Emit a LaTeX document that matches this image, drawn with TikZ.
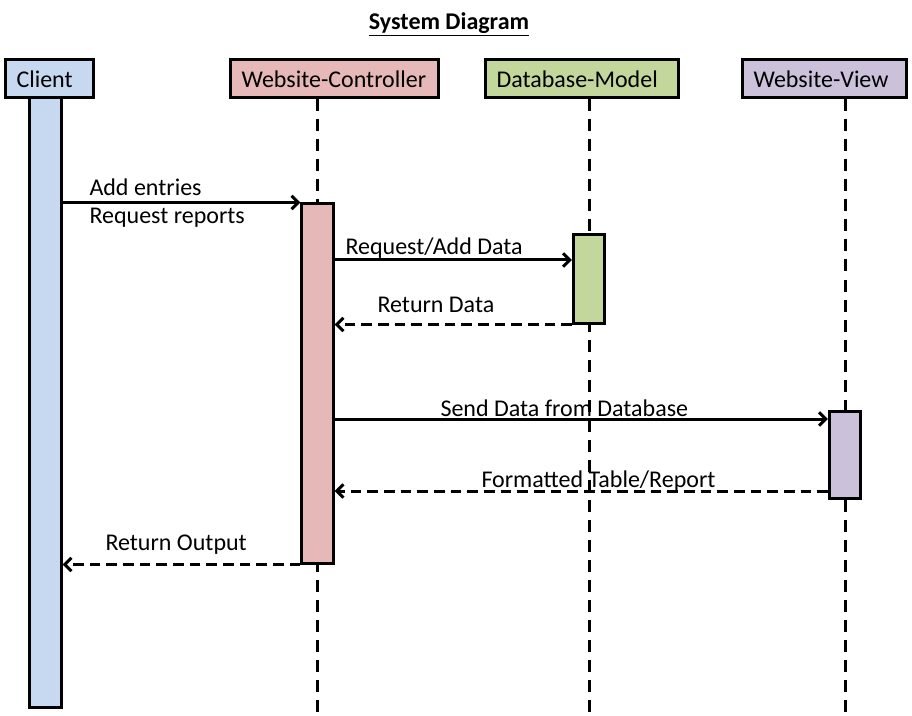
\documentclass[tikz,border=0pt]{standalone}
\usepackage{fontspec}
\setmainfont{Carlito}
\usetikzlibrary{arrows.meta,positioning}

\definecolor{clientblue}{RGB}{198,217,241}
\definecolor{ctrlpink}{RGB}{230,184,183}
\definecolor{modelgreen}{RGB}{195,214,155}
\definecolor{viewlilac}{RGB}{204,193,218}

\tikzset{every picture/.style={line width=2.25pt},
  header/.style={draw, rectangle, anchor=west, align=left, inner xsep=8.25pt,
    minimum height=28.5pt, font=\fontsize{18}{21}\selectfont},
  actbar/.style={draw, rectangle, inner sep=0pt, minimum width=23.5pt},
  lifeline/.style={dash pattern=on 9pt off 6pt},
  msg/.style={-{Straight Barb[length=5pt,width=10pt]}},
  reply/.style={msg, dash pattern=on 8pt off 4.5pt},
  lbl/.style={anchor=west, inner sep=0pt, font=\fontsize{18}{21}\selectfont}}

\begin{document}
\begin{tikzpicture}[x=0.75pt,y=0.75pt,yscale=-1,xscale=1]
\useasboundingbox (0,0) rectangle (912,716);

% Title
\node (title) at (449,24) [inner sep=0pt, font=\fontsize{18}{21}\selectfont] {\underline{\textbf{System Diagram}}};

%Shape: Rectangle [headers]
\node (client) at (4,79) [header, fill=clientblue, text width=49.5pt] {Client};
\node (ctrl) at (229,79) [header, fill=ctrlpink, text width=139.5pt] {Website-Controller};
\node (model) at (484,79) [header, fill=modelgreen, text width=128.25pt] {Database-Model};
\node (view) at (741,79) [header, fill=viewlilac, text width=106.5pt] {Website-View};

%Straight Lines [lifelines]
\coordinate (ctrlend) at (317,716);
\coordinate (modelend) at (589,716);
\coordinate (viewend) at (845,716);
\draw [lifeline] (ctrl.south -| ctrlend) -- (ctrlend);
\draw [lifeline] (model.south -| modelend) -- (modelend);
\draw [lifeline] (view.south -| viewend) -- (viewend);

%Shape: Rectangle [activation bars]
\node (cbar) at (45.5,402.5) [actbar, fill=clientblue, minimum height=456.75pt] {};
\node (ctrlbar) at (317.5,383.5) [actbar, fill=ctrlpink, minimum height=269.25pt] {};
\node (mbar) at (589,279) [actbar, fill=modelgreen, minimum height=66pt] {};
\node (vbar) at (845,454.5) [actbar, fill=viewlilac, minimum height=65.25pt] {};

%Straight Lines [messages]
\coordinate (m1) at (573,260);
\coordinate (v1) at (829,419);
\coordinate (v2) at (829,491);
\draw [msg] (cbar.east |- ctrlbar.north west) -- (ctrlbar.north west);
\draw [msg] (ctrlbar.east |- m1) -- (mbar.west |- m1);
\draw [reply] (mbar.south west) -- (ctrlbar.east |- mbar.south west);
\draw [msg] (ctrlbar.east |- v1) -- (vbar.west |- v1);
\draw [reply] (vbar.west |- v2) -- (ctrlbar.east |- v2);
\draw [reply] (ctrlbar.south west) -- (cbar.east |- ctrlbar.south west);

% Text Node
\node (add) at (88,187.5) [lbl] {Add entries};
% Text Node
\node (req) at (88,217.5) [lbl] {Request reports};
% Text Node
\node (reqadd) at (344,248) [lbl] {Request/Add Data};
% Text Node
\node (retdata) at (376,305) [lbl] {Return Data};
% Text Node
\node (send) at (439,408) [lbl] {Send Data from Database};
% Text Node
\node (fmt) at (480,481) [lbl] {Formatted Table/Report};
% Text Node
\node (retout) at (104,545) [lbl] {Return Output};

\end{tikzpicture}
\end{document}
